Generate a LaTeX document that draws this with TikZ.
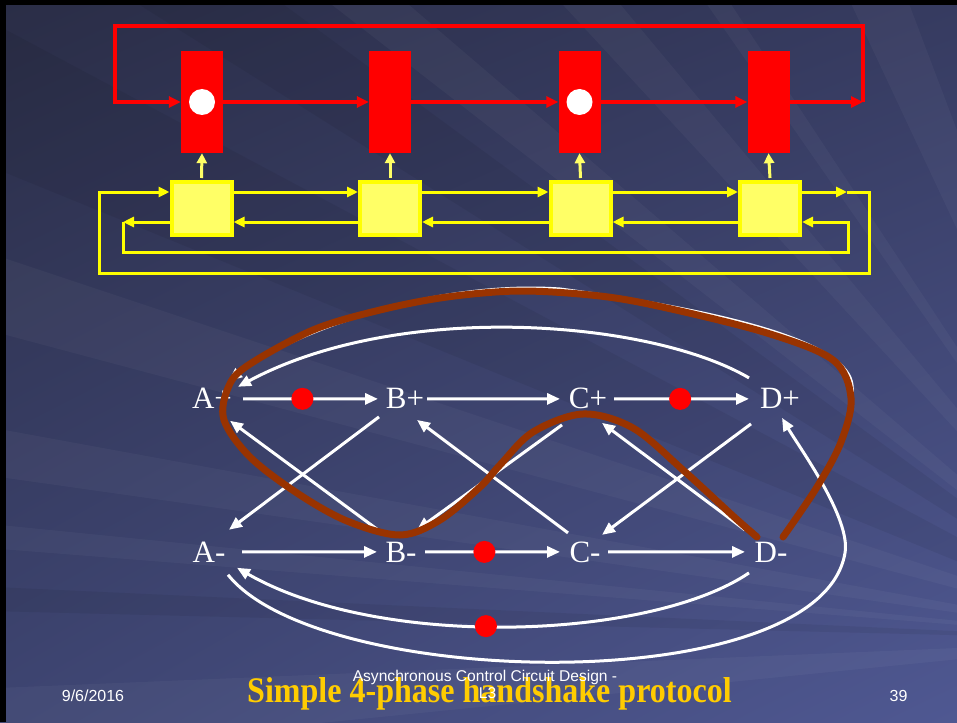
\documentclass[tikz,border=0pt]{standalone}
\usepackage{fontspec}
\setmainfont{Liberation Serif}
\newfontfamily\sansf{Liberation Sans}
\newfontfamily\titlef{Liberation Serif}[FakeStretch=0.89]
\usetikzlibrary{arrows.meta,calc,shadings}
\definecolor{bgUL}{HTML}{2A2D46}
\definecolor{bgUR}{HTML}{363B60}
\definecolor{bgLL}{HTML}{3E4572}
\definecolor{bgLR}{HTML}{4F5892}
\definecolor{yel}{HTML}{FFFF00}
\definecolor{ylight}{HTML}{FFFF66}
\definecolor{brn}{HTML}{993300}
\definecolor{gold}{HTML}{FFCC00}
\tikzset{
  redl/.style={draw=red, line width=3.5pt},
  redarr/.style={redl, -{Triangle[length=12pt,width=11pt]}},
  yell/.style={draw=yel, line width=3pt},
  yelarr/.style={yell, -{Triangle[length=11pt,width=10pt]}},
  upar/.style={draw=ylight, line width=3pt, -{Triangle[length=10pt,width=10pt]}},
  latch/.style={rectangle, fill=red, minimum width=42pt, minimum height=102pt, inner sep=0},
  tok/.style={circle, fill=white, minimum size=26pt, inner sep=0},
  ctl/.style={rectangle, fill=ylight, draw=yel, line width=4pt, minimum width=60pt, minimum height=53pt, inner sep=0},
  lab/.style={text=white, font=\fontsize{31}{31}\selectfont, inner sep=0, anchor=base},
  wline/.style={draw=white, line width=3pt},
  warr/.style={wline, -{Triangle[length=13pt,width=11pt]}},
  rdot/.style={circle, fill=red, minimum size=22pt, inner sep=0},
  loopline/.style={draw=brn, line width=7pt, line cap=round, line join=round},
  ray/.style={fill=white, opacity=0.035},
  dray/.style={fill=black, opacity=0.06},
  foot/.style={text=white, inner sep=0, anchor=base, font=\sansf\fontsize{16}{16}\selectfont},
}
\begin{document}
\begin{tikzpicture}[x=1pt,y=-1pt]
\useasboundingbox (0,0) rectangle (957,722);
% background
\shade[upper left=bgUL, upper right=bgUR, lower left=bgLL, lower right=bgLR] (0,0) rectangle (957,722);
\begin{scope}
\clip (0,0) rectangle (957,722);
\coordinate (O) at (1150,640);
\fill[dray] (O) -- (100,-20) -- (250,-20) -- cycle;
\fill[dray] (O) -- (-50,0) -- (-50,150) -- cycle;
\fill[ray] (O) -- (300,-20) -- (380,-20) -- cycle;
\fill[ray] (O) -- (540,-20) -- (600,-20) -- cycle;
\fill[ray] (O) -- (690,-20) -- (715,-20) -- cycle;
\fill[ray] (O) -- (840,-20) -- (900,-20) -- cycle;
\fill[ray] (O) -- (-50,240) -- (-50,320) -- cycle;
\fill[ray] (O) -- (-50,420) -- (-50,470) -- cycle;
\fill[ray] (O) -- (-50,520) -- (-50,545) -- cycle;
\fill[dray] (O) -- (-50,585) -- (-50,610) -- cycle;
\fill[ray] (O) -- (-50,690) -- (-50,760) -- cycle;
\end{scope}
\fill[black] (0,0) rectangle (6,722);
\fill[black] (0,0) rectangle (957,5);

% ---------- top pipeline ----------
\node[latch] (r1) at (202,102) {};
\node[latch] (r2) at (390,102) {};
\node[latch] (r3) at (579.5,102) {};
\node[latch] (r4) at (768.5,102) {};
\node[tok] (t1) at (202,102) {};
\node[tok] (t3) at (579.5,102) {};
\draw[redarr] (r1.east) -- (r2.west);
\draw[redarr] (r2.east) -- (r3.west);
\draw[redarr] (r3.east) -- (r4.west);
\coordinate (rr) at (863,102);
\coordinate (rtr) at (863,26);
\coordinate (rtl) at (115,26);
\coordinate (rl) at (115,102);
\draw[redarr] (r4.east) -- (rr);
\draw[redarr, line join=miter] (rr) -- (rtr) -- (rtl) -- (rl) -- (r1.west);

\node[ctl] (y1) at (201.5,208.5) {};
\node[ctl] (y2) at (390,208.5) {};
\node[ctl] (y3) at (580.5,208.5) {};
\node[ctl] (y4) at (770,208.5) {};
\foreach \i in {1,2,3,4} {
  \draw[upar] ([yshift=2pt]y\i.north) -- (r\i.south);
}
% forward
\draw[yelarr] ([yshift=16.5pt]y1.east) -- ([yshift=16.5pt]y2.west);
\draw[yelarr] ([yshift=16.5pt]y2.east) -- ([yshift=16.5pt]y3.west);
\draw[yelarr] ([yshift=16.5pt]y3.east) -- ([yshift=16.5pt]y4.west);
\coordinate (fa) at (847,192);
\coordinate (fb) at (869,192);
\coordinate (fc) at (869,273);
\coordinate (fd) at (99,273);
\coordinate (fe) at (99,192);
\draw[yelarr] ([yshift=16.5pt]y4.east) -- (fa);
\draw[yelarr, line join=miter] (fa) -- (fb) -- (fc) -- (fd) -- (fe) -- ([yshift=16.5pt]y1.west);
% backward
\draw[yelarr] ([yshift=-13.5pt]y2.west) -- ([yshift=-13.5pt]y1.east);
\draw[yelarr] ([yshift=-13.5pt]y3.west) -- ([yshift=-13.5pt]y2.east);
\draw[yelarr] ([yshift=-13.5pt]y4.west) -- ([yshift=-13.5pt]y3.east);
\coordinate (ba) at (123,222);
\coordinate (bb) at (123,252);
\coordinate (bc) at (848,252);
\coordinate (bd) at (848,222);
\draw[yelarr] ([yshift=-13.5pt]y1.west) -- (ba);
\draw[yelarr, line join=miter] (ba) -- (bb) -- (bc) -- (bd) -- ([yshift=-13.5pt]y4.east);

% ---------- signal graph ----------
\node[lab] (Ap) at (212,408) {A+};
\node[lab] (Bp) at (405,408) {B+};
\node[lab] (Cp) at (588,408) {C+};
\node[lab] (Dp) at (780,408) {D+};
\node[lab] (Am) at (209,562) {A-};
\node[lab] (Bm) at (401,562) {B-};
\node[lab] (Cm) at (585,562) {C-};
\node[lab] (Dm) at (771,562) {D-};

\draw[warr] ([shift={(31,1)}]Ap.center) -- ([shift={(-27,1)}]Bp.center) node[rdot, pos=0.44] (d1) {};
\draw[warr] ([shift={(22,1)}]Bp.center) -- ([shift={(-28,1)}]Cp.center);
\draw[warr] ([shift={(26,1)}]Cp.center) -- ([shift={(-31,1)}]Dp.center) node[rdot, pos=0.49] (d2) {};
\draw[warr] ([shift={(33,0)}]Am.center) -- ([shift={(-24,0)}]Bm.center);
\draw[warr] ([shift={(24,0)}]Bm.center) -- ([shift={(-25,0)}]Cm.center) node[rdot, pos=0.44] (d3) {};
\draw[warr] ([shift={(23,0)}]Cm.center) -- ([shift={(-26,0)}]Dm.center);

\draw[warr] ([shift={(-26,19)}]Bp.center) -- ([shift={(20,-22)}]Am.center);
\draw[warr] ([shift={(-23,-22)}]Bm.center) -- ([shift={(18,23)}]Ap.center);
\draw[warr] ([shift={(-26,27)}]Cp.center) -- ([shift={(16,-22)}]Bm.center);
\draw[warr] ([shift={(-17,-19)}]Cm.center) -- ([shift={(12,22)}]Bp.center);
\draw[warr] ([shift={(-29,26)}]Dp.center) -- ([shift={(17,-17)}]Cm.center);
\draw[warr] ([shift={(-26,-22)}]Dm.center) -- ([shift={(14,25)}]Cp.center);

% D+ -> A+ (upper arc)
\draw[warr] ([shift={(-31,-20)}]Dp.center) .. controls (650,320) and (400,300) .. ([shift={(26,-11)}]Ap.center);
% D- -> A- (lower arc with token)
\draw[warr] ([shift={(-22,21)}]Dm.center) .. controls (650,640) and (380,650) .. ([shift={(28,16)}]Am.center) node[rdot, pos=0.54] (d4) {};
% A- -> D+ (outer arc)
\coordinate (ow) at (845,553);
\draw[warr] ([shift={(19,23)}]Am.center) .. controls (320,690) and (820,700) .. (ow)
   .. controls (851,518) and (799,447) .. ([shift={(2,20)}]Dp.center);
% D- -> A+ (under the brown loop)
\coordinate (wa) at (852,385);
\coordinate (wb) at (560,289);
\draw[warr] ([shift={(17,-24)}]Dm.center) .. controls (815,490) and (857,430) .. (wa)
   .. controls (848,345) and (740,313) .. (wb)
   .. controls (430,280) and (285,335) .. ([shift={(17,-17)}]Ap.center);

% brown loop
\draw[loopline] plot[smooth, tension=0.55] coordinates {
 (757,537) (733,516) (683,470) (633,428) (583,414) (533,432) (500,465) (480,487)
 (440,520) (400,535) (347,521) (297,493) (250,457) (224,420) (228,388) (247,366)
 (313,330) (380,310) (447,297) (520,291) (600,296) (667,308) (767,333) (833,360)
 (851,398) (841,442) (817,487) (783,537)};

% ---------- footer ----------
\node[anchor=base, inner sep=0, text=gold, font=\titlef\bfseries\fontsize{36}{36}\selectfont] (title) at (489.5,702) {Simple 4-phase handshake protocol};
\node[foot] (date) at (93,701) {9/6/2016};
\node[foot] (page) at (898.5,701) {39};
\node[foot, font=\sansf\fontsize{15.6}{15.6}\selectfont] (ft1) at (485,681) {Asynchronous Control Circuit Design -};
\node[foot, font=\sansf\fontsize{15.6}{15.6}\selectfont] (ft2) at (487.5,698) {L3};
\end{tikzpicture}
\end{document}
